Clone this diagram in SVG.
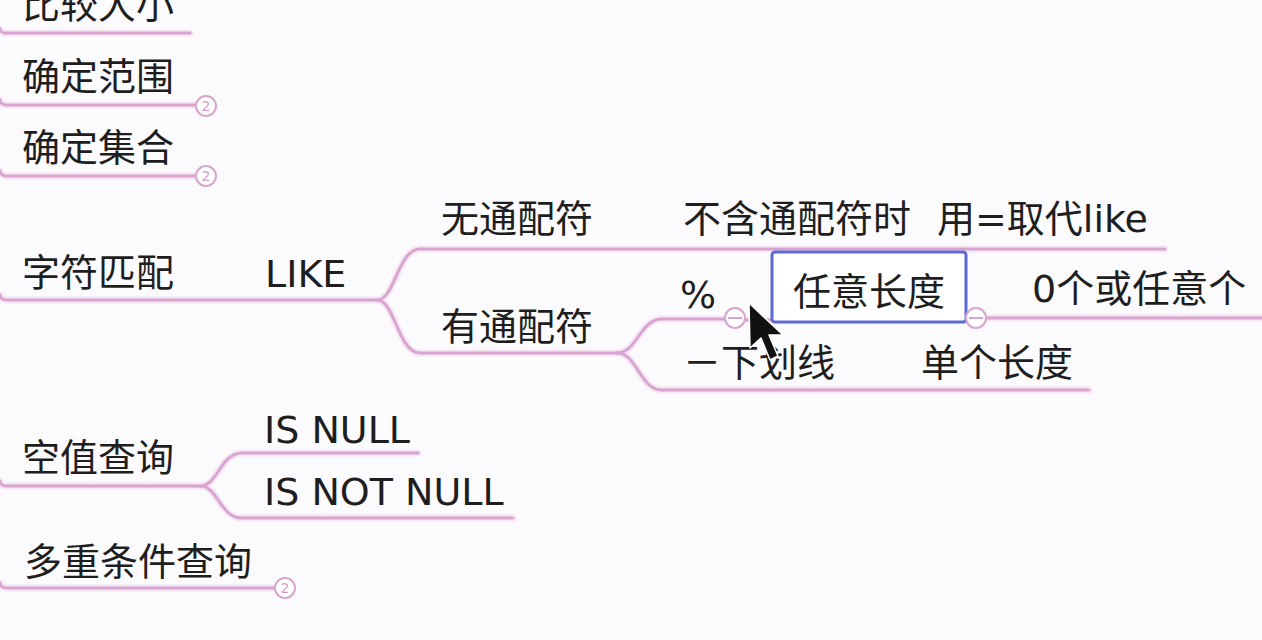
<svg xmlns="http://www.w3.org/2000/svg" width="1262" height="640" viewBox="0 0 1262 640">
<style>
.t{font-family:"DejaVu Sans","Noto Sans CJK SC",sans-serif;font-size:38px;fill:#1e1e1e}
.c{fill:none;stroke:#d7a5cf;stroke-width:3;stroke-linecap:round}
.halo{fill:none;stroke:#f6e6f3;stroke-width:7;stroke-linecap:round}
.ind{fill:#fff;stroke:#d7a5cf;stroke-width:2}
.num{font-family:"DejaVu Sans",sans-serif;font-size:14px;fill:#cf9fc8;text-anchor:middle}
.minus{stroke:#d7a5cf;stroke-width:2}
</style>
<rect width="1262" height="640" fill="#fbfafc"/>
<g id="connectors">
<path class="halo" d="M0,29 Q1,33 6,33 H190 M0,100 Q1,105 6,105 H196 M0,171 Q1,176 6,176 H196 M0,295 Q1,300 6,300 H377 M377,300 C395,300 398,249 420,249 H1165 M377,300 C395,300 398,353 420,353 H617 M617,353 C637,353 640,319 662,319 H725 M617,353 C637,353 640,390 662,390 H1089 M745,320 H965 M985,318 H1262 M0,481 Q1,486 6,486 H200 M200,486 C218,486 220,453 242,453 H418 M200,486 C218,486 220,518 242,518 H513 M0,583 Q1,588 6,588 H275"/>
<path class="c" d="M0,29 Q1,33 6,33 H190"/>
<path class="c" d="M0,100 Q1,105 6,105 H196"/>
<path class="c" d="M0,171 Q1,176 6,176 H196"/>
<path class="c" d="M0,295 Q1,300 6,300 H377"/>
<path class="c" d="M377,300 C395,300 398,249 420,249 H1165"/>
<path class="c" d="M377,300 C395,300 398,353 420,353 H617"/>
<path class="c" d="M617,353 C637,353 640,319 662,319 H725"/>
<path class="c" d="M617,353 C637,353 640,390 662,390 H1089"/>
<path class="c" d="M745,320 H965"/>
<path class="c" d="M985,318 H1262"/>
<path class="c" d="M0,481 Q1,486 6,486 H200"/>
<path class="c" d="M200,486 C218,486 220,453 242,453 H418"/>
<path class="c" d="M200,486 C218,486 220,518 242,518 H513"/>
<path class="c" d="M0,583 Q1,588 6,588 H275"/>
</g>
<g id="n-bijiao"><text class="t" x="22" y="18">比较大小</text></g>
<g id="n-fanwei"><text class="t" x="22" y="90">确定范围</text>
<circle class="ind" cx="206" cy="106" r="10"/><text class="num" x="206" y="111">2</text></g>
<g id="n-jihe"><text class="t" x="22" y="161">确定集合</text>
<circle class="ind" cx="206" cy="176" r="10"/><text class="num" x="206" y="181">2</text></g>
<g id="n-zifu"><text class="t" x="22" y="286">字符匹配</text></g>
<g id="n-like"><text class="t" x="265" y="287">LIKE</text></g>
<g id="n-wu"><text class="t" x="441" y="232">无通配符</text></g>
<g id="n-buhan"><text class="t" x="683" y="232">不含通配符时<tspan x="937">用=取代like</tspan></text></g>
<g id="n-you"><text class="t" x="441" y="340">有通配符</text></g>
<g id="n-pct"><text class="t" x="680" y="308">%</text>
<circle class="ind" cx="735" cy="318" r="10"/><line class="minus" x1="728" y1="318" x2="742" y2="318"/></g>
<g id="n-renyi"><rect x="772" y="252" width="194" height="70" rx="3" fill="#fff" stroke="#5b6bd3" stroke-width="3"/>
<text class="t" x="793" y="305">任意长度</text>
<circle class="ind" cx="976" cy="318" r="10"/><line class="minus" x1="969" y1="318" x2="983" y2="318"/></g>
<g id="n-zero"><text class="t" x="1032" y="302">0个或任意个</text></g>
<g id="n-xia"><text class="t" x="683" y="376">－下划线</text></g>
<g id="n-dange"><text class="t" x="921" y="376">单个长度</text></g>
<g id="n-kong"><text class="t" x="22" y="471">空值查询</text></g>
<g id="n-isnull"><text class="t" x="264" y="443">IS NULL</text></g>
<g id="n-isnotnull"><text class="t" x="264" y="505">IS NOT NULL</text></g>
<g id="n-duo"><text class="t" x="24" y="575">多重条件查询</text>
<circle class="ind" cx="285" cy="588" r="10"/><text class="num" x="285" y="593">2</text></g>
<g id="cursor"><polygon points="749,303 750,348 761,338 770,360 778,356 769,335 783,335" fill="#111" stroke="#fff" stroke-width="1.5" stroke-linejoin="round"/></g>
</svg>
